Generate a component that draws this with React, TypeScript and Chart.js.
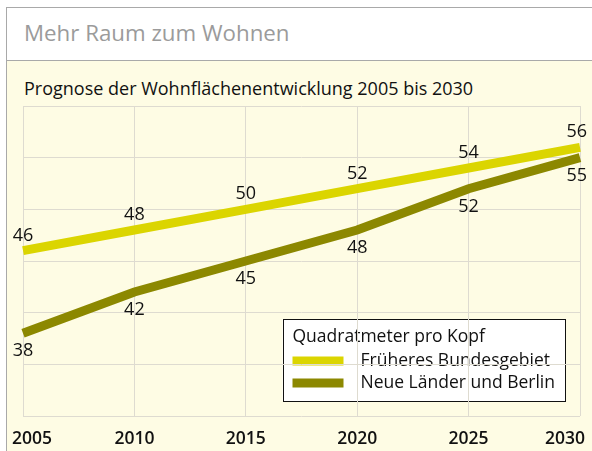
import React, { useEffect, useRef } from "react";
import { Chart, registerables } from "chart.js";
Chart.register(...registerables);

const years = ["2005", "2010", "2015", "2020", "2025", "2030"];
const westValues = [46, 48, 50, 52, 54, 56];
const eastValues = [38, 42, 45, 48, 52, 55];
const seriesNames = ["Früheres Bundesgebiet", "Neue Länder und Berlin"];
const legendTitle = "Quadratmeter pro Kopf";
const headerTitle = "Mehr Raum zum Wohnen";
const subtitle = "Prognose der Wohnflächenentwicklung 2005 bis 2030";
const yMin = 30;
const yMax = 60;
const yStep = 5;

const FONT = '"Open Sans", "Noto Sans", sans-serif';
const YELLOW = "#dbd500";
const OLIVE = "#8c8800";
const CREAM = "#fefce4";
const GRID = "#dedbd0";

const labelPlugin = {
  id: "customLabels",
  beforeDraw(chart: any) {
    // legend box (drawn below the grid, as in the reference)
    const ctx = chart.ctx;
    const area = chart.chartArea;
    ctx.save();
    ctx.font = `17.5px ${FONT}`;
    const names = chart.data.datasets.map((d: any) => d.label);
    const textW = Math.max(...names.map((n: string) => ctx.measureText(n).width));
    const boxW = 10 + 51 + 17 + textW + 10;
    const boxH = 82;
    const right = area.right - 15;
    const bottom = area.bottom - 15;
    const left = right - boxW;
    const top = bottom - boxH;
    ctx.fillStyle = "#ffffff";
    ctx.fillRect(left, top, boxW, boxH);
    ctx.strokeStyle = "#111111";
    ctx.lineWidth = 1;
    ctx.strokeRect(Math.round(left) + 0.5, Math.round(top) + 0.5, Math.round(boxW), Math.round(boxH));
    ctx.fillStyle = "#111111";
    ctx.textBaseline = "middle";
    ctx.textAlign = "left";
    ctx.fillText(legendTitle, left + 10, top + 18);
    chart.data.datasets.forEach((d: any, i: number) => {
      const cy = top + 42 + i * 22;
      ctx.fillStyle = d.borderColor;
      ctx.fillRect(left + 10, cy - 4.5, 51, 9);
      ctx.fillStyle = "#111111";
      ctx.fillText(d.label, left + 78, cy);
    });
    ctx.restore();
  },
  afterDatasetsDraw(chart: any) {
    const ctx = chart.ctx;
    const area = chart.chartArea;
    const minX = area.left - 11;
    const maxX = area.right + 7;
    ctx.save();
    ctx.fillStyle = "#111111";
    ctx.textBaseline = "middle";
    ctx.textAlign = "center";
    ctx.font = `18px ${FONT}`;
    chart.data.datasets.forEach((d: any, i: number) => {
      const meta = chart.getDatasetMeta(i);
      meta.data.forEach((pt: any, j: number) => {
        const txt = String(d.data[j]);
        const w = ctx.measureText(txt).width;
        let cx = pt.x;
        cx = Math.max(minX + w / 2, Math.min(maxX - w / 2, cx));
        const cy = i === 0 ? pt.y - 15 : pt.y + 18;
        ctx.fillText(txt, cx, cy);
      });
    });
    // x-axis tick labels
    const xs = chart.scales.x;
    ctx.font = `600 17.5px ${FONT}`;
    xs.ticks.forEach((t: any) => {
      const txt = xs.getLabelForValue(t.value);
      const w = ctx.measureText(txt).width;
      let cx = xs.getPixelForValue(t.value);
      cx = Math.max(minX + w / 2, Math.min(maxX - 2 - w / 2, cx));
      ctx.fillText(txt, cx, area.bottom + 23);
    });
    ctx.restore();
  },
};

function ChartCanvas() {
  const ref = useRef<HTMLCanvasElement | null>(null);
  useEffect(() => {
    if (!ref.current) return;
    const chart = new Chart(ref.current, {
      type: "line",
      data: {
        labels: years,
        datasets: [
          {
            label: seriesNames[0],
            data: westValues,
            borderColor: YELLOW,
            backgroundColor: YELLOW,
            borderWidth: 9,
            pointRadius: 0,
            tension: 0,
          },
          {
            label: seriesNames[1],
            data: eastValues,
            borderColor: OLIVE,
            backgroundColor: OLIVE,
            borderWidth: 9,
            pointRadius: 0,
            tension: 0,
          },
        ],
      },
      options: {
        animation: false,
        responsive: false,
        maintainAspectRatio: false,
        layout: { padding: { left: 23, right: 12, top: 106, bottom: 35 } },
        plugins: {
          legend: { display: false },
          tooltip: { enabled: false },
          title: { display: false },
        },
        scales: {
          x: {
            type: "category",
            offset: false,
            ticks: { display: false },
            grid: { color: GRID, lineWidth: 1, drawTicks: false },
            border: { display: false },
            afterFit: (s: any) => {
              s.height = 0;
            },
          },
          y: {
            min: yMin,
            max: yMax,
            ticks: { display: false, stepSize: yStep },
            grid: { color: GRID, lineWidth: 1, drawTicks: false },
            border: { display: false },
            afterFit: (s: any) => {
              s.width = 0;
            },
          },
        },
      },
      plugins: [labelPlugin],
    });
    return () => chart.destroy();
  }, []);
  return (
    <canvas
      ref={ref}
      width={592}
      height={451}
      style={{ position: "absolute", left: 0, top: 0, width: 592, height: 451 }}
    />
  );
}

export default function App() {
  return (
    <div
      style={{
        position: "absolute",
        left: 0,
        top: 0,
        width: 592,
        height: 451,
        overflow: "hidden",
        background: "#ffffff",
        fontFamily: FONT,
      }}
    >
      <div
        style={{
          position: "absolute",
          left: 6,
          top: 7,
          width: 620,
          height: 480,
          boxSizing: "border-box",
          border: "1px solid #a9a9a9",
          background: CREAM,
        }}
      />
      <div
        style={{
          position: "absolute",
          left: 7,
          top: 8,
          width: 620,
          height: 52,
          background: "#ffffff",
          borderBottom: "1px solid #a9a9a9",
        }}
      />
      <div
        style={{
          position: "absolute",
          left: 24,
          top: 17,
          fontSize: 22.3,
          color: "#9b9b9b",
          whiteSpace: "nowrap",
        }}
      >
        {headerTitle}
      </div>
      <div
        style={{
          position: "absolute",
          left: 24,
          top: 75.5,
          fontSize: 18,
          color: "#111111",
          whiteSpace: "nowrap",
        }}
      >
        {subtitle}
      </div>
      <ChartCanvas />
    </div>
  );
}
